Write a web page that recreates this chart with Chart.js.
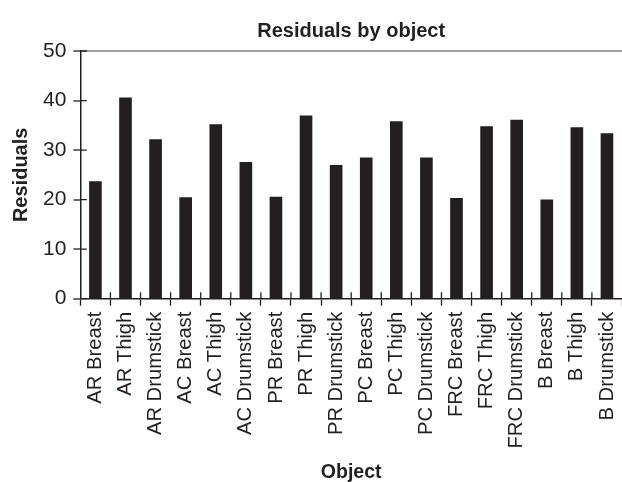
<!DOCTYPE html>
<html>
<head>
<meta charset="utf-8">
<title>Residuals by object</title>
<script src="https://cdn.jsdelivr.net/npm/chart.js@4/dist/chart.umd.min.js"></script>
<style>
  html, body { margin: 0; padding: 0; background: #fff; }
  #wrap { width: 622px; height: 482px; position: relative; }
</style>
</head>
<body>
<div id="wrap"><canvas id="chart"></canvas></div>
<script>
const objects = [
  'AR Breast', 'AR Thigh', 'AR Drumstick',
  'AC Breast', 'AC Thigh', 'AC Drumstick',
  'PR Breast', 'PR Thigh', 'PR Drumstick',
  'PC Breast', 'PC Thigh', 'PC Drumstick',
  'FRC Breast', 'FRC Thigh', 'FRC Drumstick',
  'B Breast', 'B Thigh', 'B Drumstick'
];
const residuals = [
  23.7, 40.6, 32.2,
  20.5, 35.2, 27.6,
  20.6, 37.0, 27.0,
  28.5, 35.8, 28.5,
  20.3, 34.8, 36.1,
  20.0, 34.6, 33.4
];
const yTicks = [0, 10, 20, 30, 40, 50];
const chartTitle = 'Residuals by object';

const FONT = "'Liberation Sans', Arial, Helvetica, sans-serif";
const INK = '#231f20';
const TICK_IN = 6.5;

// ticks in the reference cross the axis, Chart.js only draws the outer half
const innerTicks = {
  id: 'innerTicks',
  afterDraw(chart) {
    const { ctx, chartArea } = chart;
    const x = chart.scales.x, y = chart.scales.y;
    ctx.save();
    ctx.strokeStyle = INK;
    ctx.lineWidth = 1.3;
    ctx.beginPath();
    yTicks.forEach(v => {
      const py = y.getPixelForValue(v);
      ctx.moveTo(chartArea.left, py);
      ctx.lineTo(chartArea.left + TICK_IN, py);
    });
    for (let i = 1; i < objects.length; i++) {
      const px = (x.getPixelForValue(i - 1) + x.getPixelForValue(i)) / 2;
      ctx.moveTo(px, chartArea.bottom);
      ctx.lineTo(px, chartArea.bottom - TICK_IN);
    }
    ctx.stroke();
    ctx.restore();
  }
};

// title is centred over the plot area, not the whole canvas
const plotTitle = {
  id: 'plotTitle',
  afterDraw(chart) {
    const { ctx, chartArea } = chart;
    ctx.save();
    ctx.fillStyle = INK;
    ctx.font = `bold 20px ${FONT}`;
    ctx.textAlign = 'center';
    ctx.textBaseline = 'middle';
    ctx.fillText(chartTitle, (chartArea.left + chartArea.right) / 2, chartArea.top - 20);
    ctx.restore();
  }
};

function init() {
  const ctx = document.getElementById('chart').getContext('2d');
  new Chart(ctx, {
    type: 'bar',
    data: {
      labels: objects,
      datasets: [{
        label: 'Residuals',
        data: residuals,
        backgroundColor: INK,
        borderWidth: 0,
        barPercentage: 0.42,
        categoryPercentage: 1.0
      }]
    },
    options: {
      responsive: true,
      maintainAspectRatio: false,
      animation: false,
      layout: { padding: { left: 9, right: 0, top: 51, bottom: 0 } },
      plugins: {
        legend: { display: false },
        tooltip: { enabled: false },
        title: { display: false }
      },
      scales: {
        x: {
          offset: true,
          afterFit: s => { s.paddingRight = 0; },
          grid: {
            offset: true,
            drawOnChartArea: false,
            tickLength: 7,
            tickColor: INK,
            tickWidth: 1.3
          },
          border: { color: INK, width: 1.5 },
          ticks: {
            color: INK,
            font: { family: FONT, size: 20.2 },
            minRotation: 90,
            maxRotation: 90,
            autoSkip: false,
            padding: 6
          },
          title: {
            display: true,
            text: 'Object',
            color: INK,
            font: { family: FONT, size: 19.5, weight: 'bold', lineHeight: 1 },
            padding: { top: 8, bottom: 0 }
          }
        },
        y: {
          min: 0,
          max: 50,
          afterBuildTicks: axis => { axis.ticks = yTicks.map(v => ({ value: v })); },
          grid: {
            color: c => c.tick && c.tick.value === 50 ? '#a0a0a0' : 'rgba(0,0,0,0)',
            lineWidth: c => c.tick && c.tick.value === 50 ? 2 : 0,
            tickLength: 7,
            tickColor: INK,
            tickWidth: 1.3
          },
          border: { color: INK, width: 1.5 },
          ticks: {
            color: INK,
            font: { family: FONT, size: 21 },
            padding: 7
          },
          title: {
            display: true,
            text: 'Residuals',
            color: INK,
            font: { family: FONT, size: 20, weight: 'bold' },
            padding: { top: 0, bottom: 3 }
          }
        }
      }
    },
    plugins: [innerTicks, plotTitle]
  });
}

init();
</script>
</body>
</html>
